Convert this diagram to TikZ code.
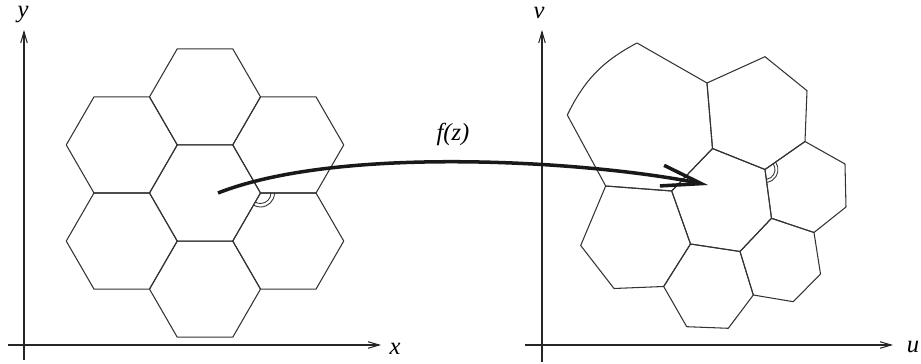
\documentclass[tikz,border=0pt]{standalone}
\usepackage{fontspec}
\setmainfont{Liberation Serif}
\newfontfamily\timesit{Liberation Serif Italic}
\usetikzlibrary{arrows.meta}
\begin{document}
\begin{tikzpicture}[x=0.02cm,y=-0.02cm,
  hex/.style={draw=black!80,line width=0.6pt,line join=round},
  axis/.style={draw=black!85,line width=0.6pt,-{Straight Barb[length=0.22cm,width=0.13cm]}},
  lbl/.style={font=\fontsize{14}{16}\selectfont\timesit,inner sep=0pt},
  mapping/.style={draw=black!90,line width=2pt,-{Straight Barb[length=0.8cm,width=0.42cm]}},
  anglemark/.style={draw=black!80,line width=0.5pt}]
\useasboundingbox (0,0) rectangle (921,364);
% ---------- left axes ----------
\coordinate (ly0) at (24,360); \coordinate (ly1) at (24,30);
\coordinate (lx0) at (8,345);  \coordinate (lx1) at (381,345);
\draw[axis] (ly0) -- (ly1);
\draw[axis] (lx0) -- (lx1);
\node[lbl] (ylab) at (23,15) {y};
\node[lbl] (xlab) at (395,349) {x};
% ---------- left honeycomb ----------
\def\s{55.5}
\foreach \cx/\cy in {205/193,121.75/144.94,121.75/241.06,205/96.88,205/289.12,288.25/144.94,288.25/241.06}{
  \draw[hex] (\cx,\cy) ++(0:\s) -- ++(120:\s) -- ++(180:\s) -- ++(240:\s) -- ++(300:\s) -- ++(0:\s) -- cycle;
}
\coordinate (lv) at (260.5,193);
\draw[anglemark] (lv) ++(0:10.5) arc[start angle=0,end angle=120,radius=10.5];
\draw[anglemark] (lv) ++(0:14) arc[start angle=0,end angle=120,radius=14];
% ---------- right axes ----------
\coordinate (rv0) at (542,362); \coordinate (rv1) at (542,30);
\coordinate (ru0) at (525,345); \coordinate (ru1) at (893,345);
\draw[axis] (rv0) -- (rv1);
\draw[axis] (ru0) -- (ru1);
\node[lbl] (vlab) at (539,13) {v};
\node[lbl] (ulab) at (913,347) {u};
% ---------- right distorted cells ----------
\coordinate (A) at (637,43);
\coordinate (B) at (707,83);
\coordinate (C) at (712.5,148.5);
\coordinate (D) at (605.7,186);
\coordinate (E) at (567.3,115);
\coordinate (F) at (671.7,191);
\coordinate (G) at (765,56.7);
\coordinate (H) at (807,90.7);
\coordinate (I) at (805,141.5);
\coordinate (J) at (765,169.5);
\coordinate (K) at (771.5,218.3);
\coordinate (L) at (740,251.5);
\coordinate (M) at (690.5,244);
\coordinate (N) at (845,164);
\coordinate (O) at (846,207);
\coordinate (P) at (814,232.5);
\coordinate (Q) at (663.7,286.5);
\coordinate (R) at (614,288.5);
\coordinate (S) at (580.7,245.5);
\coordinate (T) at (753.3,295);
\coordinate (U) at (728.3,328.3);
\coordinate (V) at (686.7,326.7);
\coordinate (W) at (820.5,274);
\coordinate (X) at (793.3,301.7);
\draw[hex] (E) to[bend left=18] (A) -- (B) -- (C) -- (F) -- (D) -- cycle;
\draw[hex] (B) -- (G) -- (H) -- (I) -- (J) -- (C) -- cycle;
\draw[hex] (C) -- (J) -- (K) -- (L) -- (M) -- (F) -- cycle;
\draw[hex] (I) -- (N) -- (O) -- (P) -- (K) -- (J) -- cycle;
\draw[hex] (D) -- (F) -- (M) -- (Q) -- (R) -- (S) -- cycle;
\draw[hex] (M) -- (L) -- (T) -- (U) -- (V) -- (Q) -- cycle;
\draw[hex] (L) -- (K) -- (P) -- (W) -- (X) -- (T) -- cycle;
\draw[anglemark] (J) ++(-35:10) arc[start angle=-35,end angle=82,radius=10];
\draw[anglemark] (J) ++(-35:13) arc[start angle=-35,end angle=82,radius=13];
% ---------- mapping arrow ----------
\coordinate (fs) at (218,193);
\coordinate (ft) at (708,185);
\draw[mapping] (fs) .. controls (340,145) and (590,161) .. (ft);
\node[lbl] (flab) at (453,134) {f(z)};
\end{tikzpicture}
\end{document}
